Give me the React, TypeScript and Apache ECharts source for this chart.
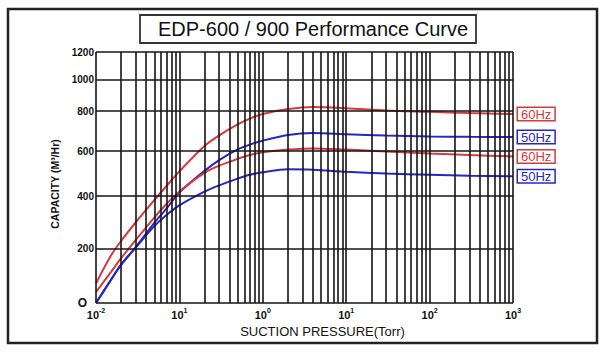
import React, { useEffect, useRef } from 'react';
import * as echarts from 'echarts';

// ---- data ----
const PRESSURE = [0.01, 0.015, 0.02, 0.03, 0.05, 0.07, 0.1, 0.2, 0.3, 0.5, 0.7, 1, 2, 4, 10, 30, 100, 300, 1000];
const EDP900_60HZ = [72, 172, 228, 300, 385, 445, 510, 625, 678, 733, 762, 785, 812, 826, 818, 803, 796, 790, 785];
const EDP900_50HZ = [0, 83, 140, 205, 298, 352, 417, 512, 560, 608, 632, 652, 680, 690, 684, 677, 673, 671, 670];
const EDP600_60HZ = [40, 112, 164, 232, 318, 370, 421, 503, 535, 565, 582, 594, 607, 613, 607, 598, 589, 582, 576];
const EDP600_50HZ = [0, 83, 140, 203, 285, 328, 365, 420, 448, 478, 495, 506, 519, 517, 508, 500, 495, 491, 488];

const SERIES_NAMES = ['EDP-900 60Hz', 'EDP-900 50Hz', 'EDP-600 60Hz', 'EDP-600 50Hz'];
const END_LABELS = ['60Hz', '50Hz', '60Hz', '50Hz'];

const Y_TICKS = [0, 200, 400, 600, 800, 1000, 1200];
const Y_TICK_LABELS = ['O', '200', '400', '600', '800', '1000', '1200'];
const X_DECADES = [0.01, 0.1, 1, 10, 100, 1000];
const X_TICK_EXPONENTS = ['-2', '1', '0', '1', '2', '3'];

// non-linear capacity scale of the original chart: axis units of each tick
const Y_STOPS = [0, 54.7, 106.8, 152, 192, 223.7, 251];

const RED = '#d63a3a';
const BLUE = '#2626c4';
const COLORS = [RED, BLUE, RED, BLUE];

function warp(v: number): number {
  for (let i = 0; i < Y_TICKS.length - 1; i++) {
    if (v <= Y_TICKS[i + 1]) {
      const f = (v - Y_TICKS[i]) / (Y_TICKS[i + 1] - Y_TICKS[i]);
      return Y_STOPS[i] + f * (Y_STOPS[i + 1] - Y_STOPS[i]);
    }
  }
  return Y_STOPS[Y_STOPS.length - 1];
}

export default function App() {
  const ref = useRef<HTMLDivElement>(null);
  useEffect(() => {
    document.body.style.margin = '0';
    if (!ref.current) return;
    const chart = echarts.init(ref.current, undefined, { renderer: 'svg' });

    const verticals: any[] = [];
    for (let d = 0; d < X_DECADES.length; d++) {
      const dec = X_DECADES[d];
      if (d === X_DECADES.length - 1) {
        verticals.push({ xAxis: dec });
      } else {
        for (let k = 1; k <= 9; k++) verticals.push({ xAxis: dec * k });
      }
    }
    const horizontals = Y_STOPS.map((s) => ({ yAxis: s }));

    const curves = [EDP900_60HZ, EDP900_50HZ, EDP600_60HZ, EDP600_50HZ];

    const series: any[] = [
      {
        type: 'line',
        name: 'grid',
        data: [[0.01, 0]],
        symbol: 'none',
        lineStyle: { width: 0 },
        silent: true,
        z: 1,
        markLine: {
          silent: true,
          symbol: ['none', 'none'],
          label: { show: false },
          lineStyle: { color: '#141414', width: 1.6, type: 'solid' },
          emphasis: { disabled: true },
          data: [...verticals, ...horizontals],
        },
      },
      ...curves.map((vals, i) => ({
        type: 'line',
        name: SERIES_NAMES[i],
        data: PRESSURE.map((p, j) => [p, warp(vals[j])]),
        smooth: 0.3,
        symbol: 'none',
        z: 3,
        lineStyle: { color: COLORS[i], width: 2 },
        itemStyle: { color: COLORS[i] },
        endLabel: {
          show: true,
          formatter: () => END_LABELS[i],
          color: COLORS[i],
          fontSize: 13,
          fontFamily: 'Liberation Sans, Arial, sans-serif',
          borderColor: COLORS[i],
          borderWidth: 1.5,
          backgroundColor: '#fff',
          padding: [0, 3, -1, 3],
          lineHeight: 13,
          distance: 5,
        },
      })),
    ];

    chart.setOption({
      animation: false,
      backgroundColor: '#fff',
      textStyle: { fontFamily: 'Liberation Sans, Arial, sans-serif' },
      title: {
        text: 'EDP-600 / 900 Performance Curve',
        left: 140,
        top: 15,
        padding: [4, 8, 4, 18],
        borderColor: '#333',
        borderWidth: 1.8,
        textStyle: {
          fontSize: 20,
          fontWeight: 'normal',
          color: '#111',
          lineHeight: 20,
          fontFamily: 'Liberation Sans, Arial, sans-serif',
        },
      },
      graphic: [
        {
          type: 'rect',
          shape: { x: 8, y: 9, width: 589, height: 334 },
          style: { fill: 'none', stroke: '#222', lineWidth: 2.5 },
          silent: true,
          z: 0,
        },
      ],
      grid: { left: 96, top: 52, width: 417, height: 251, containLabel: false },
      xAxis: {
        type: 'log',
        logBase: 10,
        min: 0.01,
        max: 1000,
        axisLine: { show: false },
        axisTick: { show: false },
        splitLine: { show: false },
        minorSplitLine: { show: false },
        name: 'SUCTION PRESSURE(Torr)',
        nameLocation: 'middle',
        nameGap: 15,
        nameTextStyle: { fontSize: 13, color: '#111', padding: [0, 0, 0, 36] },
        axisLabel: {
          margin: 4,
          color: '#111',
          formatter: (v: number) => {
            const e = Math.round(Math.log10(v));
            return '{b|10}{s|' + X_TICK_EXPONENTS[e + 2] + '}';
          },
          rich: {
            b: { fontSize: 11, fontWeight: 'bold', color: '#111', verticalAlign: 'bottom', lineHeight: 13 },
            s: { fontSize: 7, fontWeight: 'bold', color: '#111', verticalAlign: 'top', lineHeight: 13 },
          },
        },
      },
      yAxis: {
        type: 'value',
        min: 0,
        max: 251,
        axisLine: { show: false },
        axisTick: { show: false },
        splitLine: { show: false },
        name: 'CAPACITY (M³/Hr)',
        nameLocation: 'middle',
        nameRotate: 90,
        nameGap: 27,
        nameTextStyle: { fontSize: 10.5, fontWeight: 'bold', color: '#111', padding: [0, 13, 0, 0] },
        axisLabel: {
          customValues: Y_STOPS,
          margin: 2,
          fontSize: 10,
          fontWeight: 'bold',
          color: '#111',
          formatter: (v: number) => {
            let idx = 0;
            let best = Infinity;
            Y_STOPS.forEach((s, i) => {
              if (Math.abs(s - v) < best) {
                best = Math.abs(s - v);
                idx = i;
              }
            });
            return idx === 0 ? '{o|' + Y_TICK_LABELS[0] + '}' : Y_TICK_LABELS[idx];
          },
          rich: {
            o: { fontSize: 12, fontWeight: 'bold', color: '#111', padding: [0, 7, 0, 0] },
          },
        },
      },
      series,
    });
    return () => chart.dispose();
  }, []);
  return <div ref={ref} style={{ width: 606, height: 354 }} />;
}
